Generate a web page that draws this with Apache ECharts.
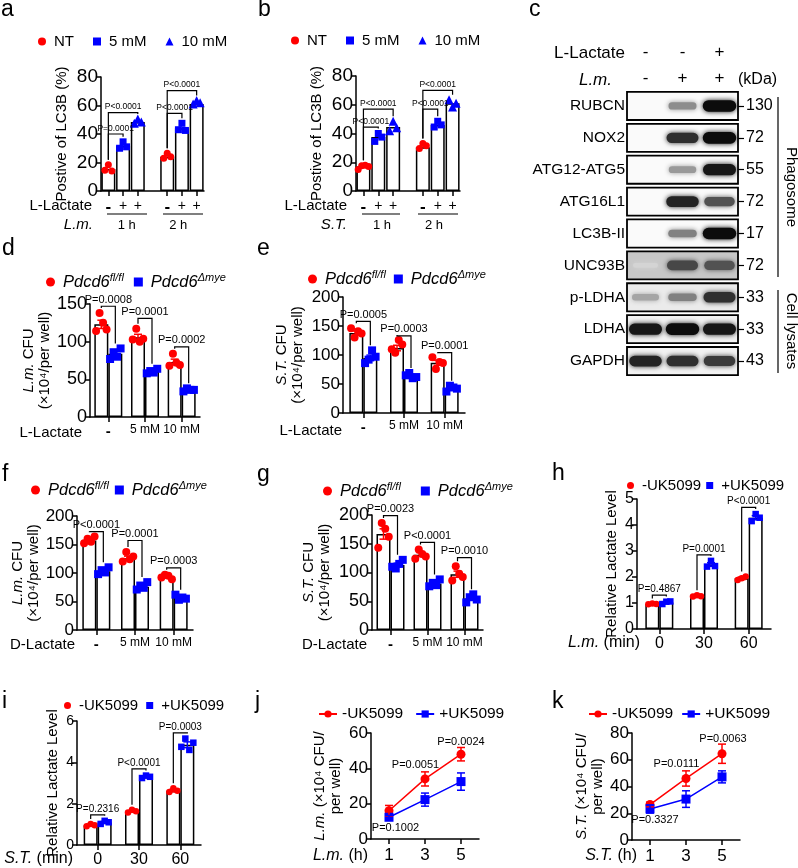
<!DOCTYPE html>
<html>
<head>
<meta charset="utf-8">
<title>Lactate panels</title>
<script src="https://cdn.jsdelivr.net/npm/echarts@6/dist/echarts.min.js"></script>
<style>
html, body { margin: 0; padding: 0; background: #fff; }
#main { width: 798px; height: 868px; }
</style>
</head>
<body>
<div id="main"></div>
<script>
var FONT = '"Liberation Sans", Arial, Helvetica, sans-serif';
var RED = '#ff0000';
var BLUE = '#0000ff';

// a / b  LC3B positive cells
var lc3Slots = ['-', '+', '+', '', '-', '+', '+'];
var lc3Times = ['1 h', '2 h'];
var lc3Groups = ['NT', '5 mM', '10 mM'];
var aMeans = [[15.5, 24], [31.5, 44], [48.5, 61]];
var aPts = [[[14.5, 18.5, 14], [23, 26.5, 24]], [[30, 34.5, 31], [43, 47.5, 42.5]], [[47.5, 50.5, 48.5], [61, 63.5, 62]]];
var aSig = [['P=0.0001', 0, 1, 40], ['P<0.0001', 0, 2, 55], ['P<0.0001', 4, 5, 54.5], ['P<0.0001', 4, 6, 70.5]];
var bMeans = [[17, 30.5], [37.5, 46], [44.5, 61]];
var bPts = [[[15, 17.5, 18, 17], [29.5, 33, 31.5]], [[34.5, 40, 37.5], [44.5, 48.5, 46]], [[42, 48.5, 44], [63.5, 58.5, 61]]];
var bSig = [['P<0.0001', 0, 1, 44.5], ['P<0.0001', 0, 2, 57], ['P<0.0001', 4, 5, 57], ['P<0.0001', 4, 6, 70]];

// d - g  CFU
var lacDoses = ['-', '5 mM', '10 mM'];
var pdcdNames = ['Pdcd6fl/fl', 'Pdcd6Δmye'];
var dRed = [123, 106, 73], dRedErr = [5.5, 3.8, 3.8];
var dRedPts = [[114, 138, 125, 116], [103, 117, 100, 104], [68, 84, 72, 69]];
var dBlue = [84, 60.5, 36], dBlueErr = [3.2, 1.4, 0.9];
var dBluePts = [[77, 86, 80, 91], [58, 61, 59, 64], [34, 38, 36, 36]];
var dSig = [['P=0.0008', 147], ['P=0.0001', 131], ['P=0.0002', 93]];
var eRed = [138, 112, 86.5], eRedErr = [3.5, 4.8, 4.2];
var eRedPts = [[146, 130, 141, 137], [110, 104, 126, 118], [96, 76, 88, 86]];
var eBlue = [95, 64, 42.5], eBlueErr = [4.8, 2, 2];
var eBluePts = [[86, 92, 108, 97], [65, 69, 60, 62], [37, 47, 44, 42]];
var eSig = [['P=0.0005', 158], ['P=0.0003', 133], ['P=0.0001', 104]];
var fRed = [157, 126, 93], fRedErr = [2.7, 3.6, 1.7];
var fRedPts = [[152, 160, 155, 164], [120, 137, 124, 129], [92, 97, 95, 89]];
var fBlue = [103, 76, 57], fBlueErr = [2.6, 2.8, 2];
var fBluePts = [[98, 105, 101, 110], [71, 78, 74, 84], [62, 53, 57, 55]];
var fSig = [['P<0.0001', 172.5], ['P=0.0001', 157], ['P=0.0003', 109]];
var gRed = [167, 131, 97], gRedErr = [9, 3.4, 5.4];
var gRedPts = [[143, 186, 176, 162], [124, 140, 132, 128], [86, 111, 98, 92]];
var gBlue = [113, 81, 55], gBlueErr = [3.2, 2.6, 3];
var gBluePts = [[110, 107, 115, 122], [76, 82, 78, 88], [48, 57, 62, 53]];
var gSig = [['P=0.0023', 199], ['P<0.0001', 152.5], ['P=0.0010', 126]];

// h / i  lactate level
var minutes = ['0', '30', '60'];
var ukNames = ['-UK5099', '+UK5099'];
var hRed = [0.96, 1.27, 1.95], hRedErr = [0.02, 0.02, 0.05];
var hRedPts = [[0.95, 0.98, 0.96], [1.25, 1.3, 1.26], [1.88, 1.95, 2.02]];
var hBlue = [1.02, 2.48, 4.28], hBlueErr = [0.03, 0.07, 0.08];
var hBluePts = [[0.96, 1.05, 1.06], [2.4, 2.62, 2.42], [4.15, 4.42, 4.28]];
var hSig = [['P=0.4867', 1.3], ['P=0.0001', 2.85], ['P<0.0001', 4.68]];
var iRed = [0.96, 1.62, 2.63], iRedErr = [0.04, 0.04, 0.06];
var iRedPts = [[0.91, 1.02, 0.95], [1.57, 1.7, 1.63], [2.57, 2.75, 2.62]];
var iBlue = [1.09, 3.3, 4.85], iBlueErr = [0.05, 0.04, 0.14];
var iBluePts = [[1.02, 1.17, 1.1], [3.24, 3.36, 3.3], [4.75, 5.15, 4.6, 4.95]];
var iSig = [['P=0.2316', 1.46], ['P<0.0001', 3.68], ['P=0.0003', 5.43]];

// j / k  CFU time course
var hours = ['1', '3', '5'];
var jRed = [16, 34, 48], jRedErr = [3, 4, 3.8];
var jBlue = [12.3, 22.3, 32.5], jBlueErr = [1, 3.7, 4.9];
var jP = [['P=0.1002', 0, 6.5, 6.3], ['P=0.0051', 1, -9.5, 41.7], ['P=0.0024', 2, 0, 55.2]];
var kRed = [26.5, 46, 64.5], kRedErr = [1.7, 5.7, 7.2];
var kBlue = [23.2, 30.6, 47.2], kBlueErr = [3.1, 6.2, 4.5];
var kP = [['P=0.3327', 0, 5, 14.9], ['P=0.0111', 1, -9.5, 56.5], ['P=0.0063', 2, 1, 75.8]];

// c  western blot
var blotRows = ['RUBCN', 'NOX2', 'ATG12-ATG5', 'ATG16L1', 'LC3B-II', 'UNC93B', 'p-LDHA', 'LDHA', 'GAPDH'];
var blotKda = ['130', '72', '55', '72', '17', '72', '33', '33', '43'];
var blotLactate = ['-', '-', '+'];
var blotLm = ['-', '+', '+'];
var blotBands = [
    [0, 0.4, 0.95],
    [0, 0.8, 0.95],
    [0, 0.35, 0.9],
    [0, 0.85, 0.65],
    [0, 0.45, 0.95],
    [0.1, 0.7, 0.65],
    [0.3, 0.45, 0.8],
    [0.9, 0.95, 0.9],
    [0.85, 0.8, 0.75]
];
var blotBg = [0.02, 0.02, 0.02, 0.02, 0.02, 0.22, 0.08, 0.05, 0.05];

var option = {
    animation: false,
    backgroundColor: '#fff',
    textStyle: {fontFamily: FONT, color: '#000'},
    grid: [], xAxis: [], yAxis: [], legend: [], series: [], graphic: []
};

function shortName(n) { return n.split('|')[1]; }

function addGrid(r) {
    option.grid.push({left: r[0], top: r[1], width: r[2], height: r[3]});
    return option.grid.length - 1;
}

function addX(gi, cats, fs) {
    option.xAxis.push({
        type: 'category', gridIndex: gi, data: cats,
        axisLine: {show: true, lineStyle: {color: '#000', width: 1.5}},
        axisTick: {show: true, alignWithLabel: true, length: 5, lineStyle: {color: '#000', width: 1.5},
            interval: function (i, v) { return v !== ''; }},
        axisLabel: {color: '#000', fontSize: fs, fontFamily: FONT, margin: 7, interval: 0,
            formatter: function (v) { return v === '-' ? '{b|-}' : v; },
            rich: {b: {fontWeight: 'bold', fontSize: fs + 3, fontFamily: FONT}}},
        splitLine: {show: false}
    });
    return option.xAxis.length - 1;
}

function addY(gi, max, step, name, gap, labelSize) {
    option.yAxis.push({
        type: 'value', gridIndex: gi, min: 0, max: max, interval: step,
        axisLine: {show: true, lineStyle: {color: '#000', width: 1.5}},
        axisTick: {show: true, length: 5, lineStyle: {color: '#000', width: 1.5}},
        axisLabel: {color: '#000', fontSize: labelSize, fontFamily: FONT, margin: 3},
        splitLine: {show: false},
        name: name, nameLocation: 'middle', nameGap: gap,
        nameTextStyle: {color: '#000', fontSize: 15, fontFamily: FONT, lineHeight: 16,
            rich: {i: {fontStyle: 'italic', fontSize: 15, fontFamily: FONT, lineHeight: 16}}}
    });
    return option.yAxis.length - 1;
}

function addLegend(names, left, top, gap, w, h, rich) {
    option.legend.push({
        left: left, top: top, padding: 0, itemGap: gap, itemWidth: w, itemHeight: h,
        selectedMode: false, data: names,
        formatter: rich ? function (n) {
            var s = shortName(n);
            return '{i|Pdcd6}{s|' + s.replace('Pdcd6', '') + '}';
        } : shortName,
        textStyle: {color: '#000', fontSize: 15, fontFamily: FONT, padding: [0, 0, 0, 3],
            rich: {i: {fontStyle: 'italic', fontSize: 16.5, fontFamily: FONT},
                   s: {fontStyle: 'italic', fontSize: 11, fontFamily: FONT, padding: [0, 0, 9, 0]}}}
    });
}

function addDots(name, xi, yi, symbol, color, size, pts, slotOf, dx, step) {
    var data = [];
    pts.forEach(function (list, c) {
        list.forEach(function (v, j) {
            var jit = (j - (list.length - 1) / 2) * step;
            data.push({value: [slotOf(c), v], symbolOffset: [dx + jit, 0]});
        });
    });
    option.series.push({name: name, type: 'scatter', xAxisIndex: xi, yAxisIndex: yi,
        symbol: symbol, symbolSize: size, itemStyle: {color: color, opacity: 1},
        data: data, z: 5, silent: true});
}

function addErr(xi, yi, color, means, errs, dx, cap) {
    option.series.push({
        type: 'custom', xAxisIndex: xi, yAxisIndex: yi, z: 6, silent: true,
        encode: {x: 0, y: 1},
        data: means.map(function (m, c) { return [c, m, errs[c], dx]; }),
        renderItem: function (params, api) {
            var c = api.value(0), m = api.value(1), e = api.value(2);
            var p = api.coord([c, m + e]), q = api.coord([c, m - e]);
            var x = p[0] + api.value(3);
            var st = {stroke: color, lineWidth: 1.5, fill: 'none'};
            return {type: 'group', children: [
                {type: 'line', shape: {x1: x, y1: p[1], x2: x, y2: q[1]}, style: st},
                {type: 'line', shape: {x1: x - cap, y1: p[1], x2: x + cap, y2: p[1]}, style: st},
                {type: 'line', shape: {x1: x - cap, y1: q[1], x2: x + cap, y2: q[1]}, style: st}
            ]};
        }
    });
}

// item: [label, x1, dx1, x2, dx2, yTop, yLeftEnd, yRightEnd]
function addBrackets(xi, yi, items, fs) {
    var labels = items.map(function (s) { return s[0]; });
    option.series.push({
        type: 'custom', xAxisIndex: xi, yAxisIndex: yi, z: 6, silent: true,
        encode: {x: 0, y: 4},
        data: items.map(function (s) { return s.slice(1); }),
        renderItem: function (params, api) {
            var a = api.coord([api.value(0), api.value(4)]);
            var b = api.coord([api.value(2), api.value(4)]);
            var x1 = a[0] + api.value(1), x2 = b[0] + api.value(3), y = a[1];
            var yl = api.coord([api.value(0), api.value(5)])[1] - 5;
            var yr = api.coord([api.value(2), api.value(6)])[1] - 5;
            return {type: 'group', children: [
                {type: 'polyline', shape: {points: [[x1, yl], [x1, y], [x2, y], [x2, yr]]},
                    style: {stroke: '#000', lineWidth: 1.2, fill: 'none'}},
                {type: 'text', x: (x1 + x2) / 2, y: y - 1,
                    style: {text: labels[params.dataIndex], fontSize: fs, fontFamily: FONT, fill: '#000',
                        align: 'center', verticalAlign: 'bottom'}}
            ]};
        }
    });
}

function addTexts(xi, yi, items, fs) {
    var labels = items.map(function (s) { return s[0]; });
    option.series.push({
        type: 'custom', xAxisIndex: xi, yAxisIndex: yi, z: 6, silent: true,
        encode: {x: 0, y: 2},
        data: items.map(function (s) { return [s[1], s[2], s[3]]; }),
        renderItem: function (params, api) {
            var p = api.coord([api.value(0), api.value(2)]);
            return {type: 'text', x: p[0] + api.value(1), y: p[1],
                style: {text: labels[params.dataIndex], fontSize: fs, fontFamily: FONT, fill: '#000',
                    align: 'center', verticalAlign: 'middle'}};
        }
    });
}

function maxOf(a) { return Math.max.apply(null, a); }

function lc3Panel(key, rect, means, pts, sig, legendPos) {
    var gi = addGrid(rect);
    var xi = addX(gi, lc3Slots, 14);
    option.xAxis[xi].axisLabel.margin = 8;
    option.xAxis.push({type: 'category', gridIndex: gi, data: lc3Times, position: 'bottom', offset: 20,
        axisLine: {show: false}, axisTick: {show: false},
        axisLabel: {color: '#000', fontSize: 13, fontFamily: FONT, margin: 8}});
    var yi = addY(gi, 80, 20, 'Postive of LC3B (%)', 31, 19);
    var barData = lc3Slots.map(function () { return '-'; });
    means.forEach(function (row, g) {
        row.forEach(function (v, t) { barData[t * 4 + g] = v; });
    });
    option.series.push({type: 'bar', xAxisIndex: xi, yAxisIndex: yi, data: barData, barWidth: 14,
        itemStyle: {color: '#fff', borderColor: '#000', borderWidth: 1.5}, z: 2, silent: true});
    var syms = ['circle', 'rect', 'triangle'], cols = [RED, BLUE, BLUE], sizes = [7, 7, 9];
    lc3Groups.forEach(function (nm, g) {
        addDots(key + '|' + nm, xi, yi, syms[g], cols[g], sizes[g], pts[g],
            function (t) { return t * 4 + g; }, 0, 3.5);
    });
    var items = sig.map(function (s) {
        var t = Math.floor(s[1] / 4);
        return [s[0], s[1], 0, s[2], 0, s[3], maxOf(pts[s[1] % 4][t]), maxOf(pts[s[2] % 4][t])];
    });
    addBrackets(xi, yi, items, 8.5);
    addLegend(lc3Groups.map(function (n) { return key + '|' + n; }), legendPos[0], legendPos[1], 19, 8, 8, false);
}

function pairPanel(c) {
    var gi = addGrid(c.rect);
    var xi = addX(gi, c.cats, c.xFont);
    var yi = addY(gi, c.max, c.step, c.yName, c.gap, c.yFont);
    var names = c.names.map(function (n) { return c.key + '|' + n; });
    [c.red, c.blue].forEach(function (m) {
        option.series.push({type: 'bar', xAxisIndex: xi, yAxisIndex: yi, data: m, barWidth: 14, barGap: '0%',
            itemStyle: {color: '#fff', borderColor: '#000', borderWidth: 1.5}, z: 2, silent: true});
    });
    addErr(xi, yi, RED, c.red, c.redErr, -7, 4);
    addErr(xi, yi, BLUE, c.blue, c.blueErr, 7, 4);
    addDots(names[0], xi, yi, 'circle', RED, c.dot, c.redPts, function (k) { return k; }, -7, c.jit);
    addDots(names[1], xi, yi, 'rect', BLUE, c.dot, c.bluePts, function (k) { return k; }, 7, c.jit);
    var items = c.sig.map(function (s, k) {
        return [s[0], k, -7, k, 7, s[1], maxOf(c.redPts[k]), maxOf(c.bluePts[k])];
    });
    addBrackets(xi, yi, items, c.pFont);
    addLegend(names, c.legend[0], c.legend[1], c.legend[2], c.legend[3], c.legend[3], c.rich);
}

function linePanel(c) {
    var gi = addGrid(c.rect);
    var xi = addX(gi, hours, 17);
    option.xAxis[xi].axisLabel.margin = 8;
    var yi = addY(gi, c.max, c.step, c.yName, c.gap, 17);
    var names = ukNames.map(function (n) { return c.key + '|' + n; });
    addErr(xi, yi, RED, c.red, c.redErr, 0, 4);
    addErr(xi, yi, BLUE, c.blue, c.blueErr, 0, 4);
    option.series.push({name: names[0], type: 'line', xAxisIndex: xi, yAxisIndex: yi, data: c.red,
        symbol: 'circle', symbolSize: 9, lineStyle: {color: RED, width: 1.5}, itemStyle: {color: RED}, z: 5, silent: true});
    option.series.push({name: names[1], type: 'line', xAxisIndex: xi, yAxisIndex: yi, data: c.blue,
        symbol: 'rect', symbolSize: 9, lineStyle: {color: BLUE, width: 1.5}, itemStyle: {color: BLUE}, z: 5, silent: true});
    addTexts(xi, yi, c.p, 11);
    option.legend.push({left: c.legend[0], top: c.legend[1], padding: 0, itemGap: c.legend[2],
        itemWidth: 18, itemHeight: 9, selectedMode: false, data: names, formatter: shortName,
        textStyle: {color: '#000', fontSize: 15.5, fontFamily: FONT}});
}

lc3Panel('a', [101, 77, 103, 114], aMeans, aPts, aSig, [38, 34]);
lc3Panel('b', [356, 76, 104, 115], bMeans, bPts, bSig, [291, 33]);

var cfuLm = '{i|L.m.} CFU\n(×10⁴/per well)';
var cfuSt = '{i|S.T.} CFU\n(×10⁴/per well)';
pairPanel({key: 'd', rect: [90, 304, 110, 113], cats: lacDoses, max: 150, step: 50, yName: cfuLm, gap: 35,
    red: dRed, redErr: dRedErr, redPts: dRedPts, blue: dBlue, blueErr: dBlueErr, bluePts: dBluePts,
    sig: dSig, names: pdcdNames, rich: true, legend: [46, 272, 10, 9], dot: 8, jit: 3.5, pFont: 11, xFont: 12, yFont: 18});
pairPanel({key: 'e', rect: [343, 297, 122, 116], cats: lacDoses, max: 200, step: 50, yName: cfuSt, gap: 37,
    red: eRed, redErr: eRedErr, redPts: eRedPts, blue: eBlue, blueErr: eBlueErr, bluePts: eBluePts,
    sig: eSig, names: pdcdNames, rich: true, legend: [308, 269, 8, 9], dot: 8, jit: 3.5, pFont: 11, xFont: 12, yFont: 17});
pairPanel({key: 'f', rect: [77, 516, 116, 114], cats: lacDoses, max: 200, step: 50, yName: cfuLm, gap: 32,
    red: fRed, redErr: fRedErr, redPts: fRedPts, blue: fBlue, blueErr: fBlueErr, bluePts: fBluePts,
    sig: fSig, names: pdcdNames, rich: true, legend: [31, 480, 6, 9], dot: 8, jit: 3.5, pFont: 11, xFont: 12, yFont: 17});
pairPanel({key: 'g', rect: [372, 515, 111, 115], cats: lacDoses, max: 200, step: 50, yName: cfuSt, gap: 39,
    red: gRed, redErr: gRedErr, redPts: gRedPts, blue: gBlue, blueErr: gBlueErr, bluePts: gBluePts,
    sig: gSig, names: pdcdNames, rich: true, legend: [323, 481, 20, 9], dot: 8, jit: 3.5, pFont: 11, xFont: 12, yFont: 18});
pairPanel({key: 'h', rect: [637, 499, 134, 130], cats: minutes, max: 5, step: 1, yName: 'Relative Lactate Level', gap: 17,
    red: hRed, redErr: hRedErr, redPts: hRedPts, blue: hBlue, blueErr: hBlueErr, bluePts: hBluePts,
    sig: hSig, names: ukNames, rich: false, legend: [627, 478, 5, 7], dot: 6.5, jit: 4, pFont: 10, xFont: 16, yFont: 16});
pairPanel({key: 'i', rect: [77, 721, 124, 126], cats: minutes, max: 6, step: 2, yName: 'Relative Lactate Level', gap: 16,
    red: iRed, redErr: iRedErr, redPts: iRedPts, blue: iBlue, blueErr: iBlueErr, bluePts: iBluePts,
    sig: iSig, names: ukNames, rich: false, legend: [64, 698, 8, 7], dot: 6.5, jit: 4, pFont: 10, xFont: 16, yFont: 14});

linePanel({key: 'j', rect: [371, 733, 108, 106], max: 60, step: 20, gap: 27,
    yName: '{i|L.m.} (×10⁴ CFU/\nper well)', red: jRed, redErr: jRedErr, blue: jBlue, blueErr: jBlueErr,
    p: jP, legend: [318, 706, 12]});
linePanel({key: 'k', rect: [632, 733, 108, 107], max: 80, step: 20, gap: 20,
    yName: '{i|S.T.} (×10⁴ CFU/\nper well)', red: kRed, redErr: kRedErr, blue: kBlue, blueErr: kBlueErr,
    p: kP, legend: [588, 706, 8]});

// c  blot
(function () {
    var gi = addGrid([627, 90, 111, 287]);
    function topAxis(cats, off) {
        option.xAxis.push({type: 'category', gridIndex: gi, data: cats, position: 'top', offset: off,
            axisLine: {show: false}, axisTick: {show: false},
            axisLabel: {color: '#000', fontSize: 17, fontFamily: FONT, margin: 3, interval: 0}});
        return option.xAxis.length - 1;
    }
    var xi = topAxis(blotLm, 0);
    topAxis(blotLactate, 26);
    option.yAxis.push({type: 'category', gridIndex: gi, data: blotRows, inverse: true,
        axisLine: {show: false}, axisTick: {show: false},
        axisLabel: {color: '#000', fontSize: 15.5, fontFamily: FONT, margin: 2, interval: 0}});
    var yi = option.yAxis.length - 1;
    option.yAxis.push({type: 'category', gridIndex: gi, data: blotKda, inverse: true, position: 'right',
        axisLine: {show: false},
        axisTick: {show: true, alignWithLabel: true, length: 6, lineStyle: {color: '#000', width: 1.2}},
        axisLabel: {color: '#000', fontSize: 16, fontFamily: FONT, margin: 8, interval: 0}});
    option.series.push({type: 'custom', xAxisIndex: xi, yAxisIndex: yi, z: 2, silent: true,
        encode: {x: 0, y: 1},
        data: blotRows.map(function (r, i) { return [0, i, blotBg[i]]; }),
        renderItem: function (params, api) {
            var cs = params.coordSys;
            var y = api.coord([0, api.value(1)])[1];
            var h = api.size([0, 1])[1] * 0.88;
            var b = Math.round(255 * (1 - api.value(2)));
            return {type: 'rect', shape: {x: cs.x, y: y - h / 2, width: cs.width, height: h},
                style: {fill: 'rgb(' + b + ',' + b + ',' + b + ')', stroke: '#000', lineWidth: 1.8}};
        }});
    var bands = [];
    blotBands.forEach(function (row, r) {
        row.forEach(function (v, l) { bands.push([l, r, v]); });
    });
    option.series.push({type: 'custom', xAxisIndex: xi, yAxisIndex: yi, z: 3, silent: true,
        encode: {x: 0, y: 1}, data: bands,
        renderItem: function (params, api) {
            var I = api.value(2);
            if (I <= 0) return null;
            var p = api.coord([api.value(0), api.value(1)]);
            var w = 24 + 10 * I, h = 4 + 8 * I;
            var g = Math.round(235 * (1 - I));
            var col = 'rgb(' + g + ',' + g + ',' + g + ')';
            return {type: 'rect', shape: {x: p[0] - w / 2, y: p[1] - h / 2, width: w, height: h, r: h / 2},
                style: {fill: col, shadowBlur: 5, shadowColor: col}};
        }});
})();

// labels and annotation lines
function gText(x, y, text, size, align, extra) {
    var st = {text: text, fontSize: size, fontFamily: FONT, fill: '#000', align: align || 'left', verticalAlign: 'middle',
        rich: {i: {fontStyle: 'italic', fontSize: size, fontFamily: FONT}}};
    var el = {type: 'text', x: x, y: y, silent: true, style: st};
    if (extra) Object.assign(el, extra);
    option.graphic.push(el);
}
function gLine(x1, y1, x2, y2) {
    option.graphic.push({type: 'line', silent: true, shape: {x1: x1, y1: y1, x2: x2, y2: y2},
        style: {stroke: '#000', lineWidth: 1.2}});
}

[['a', 1, 10], ['b', 258, 10], ['c', 529, 10], ['d', 2, 249], ['e', 257, 249], ['f', 2, 475],
 ['g', 257, 475], ['h', 552, 474], ['i', 2, 702], ['j', 255, 702], ['k', 552, 702]].forEach(function (p) {
    gText(p[1], p[2], p[0], 23);
});

gText(92, 206, 'L-Lactate', 15, 'right');
gText(93, 225, '{i|L.m.}', 15, 'right');
gLine(107, 214, 147, 214); gLine(163, 214, 203, 214);
gText(347, 206, 'L-Lactate', 15, 'right');
gText(347, 225, '{i|S.T.}', 15, 'right');
gLine(362, 214, 400, 214); gLine(418, 214, 458, 214);
gText(82, 433, 'L-Lactate', 15, 'right');
gText(342, 431, 'L-Lactate', 15, 'right');
gText(75, 645, 'D-Lactate', 15, 'right');
gText(367, 645, 'D-Lactate', 15, 'right');
gText(640, 643, '{i|L.m.} (min)', 16, 'right');
gText(73, 859, '{i|S.T.} (min)', 16, 'right');
gText(368, 856, '{i|L.m.} (h)', 16, 'right');
gText(637, 856, '{i|S.T.} (h)', 16, 'right');

gText(625, 53, 'L-Lactate', 17, 'right');
gText(612, 80, '{i|L.m.}', 17, 'right');
gText(738, 80, '(kDa)', 16, 'left');
gLine(778, 97, 778, 277);
gLine(778, 290, 778, 373);
gText(791, 187, 'Phagosome', 15, 'center', {rotation: -Math.PI / 2});
gText(791, 331, 'Cell lysates', 15, 'center', {rotation: -Math.PI / 2});

var chart = echarts.init(document.getElementById('main'));
chart.setOption(option);
window.onresize = function () {
    chart.resize();
};
</script>
</body>
</html>
